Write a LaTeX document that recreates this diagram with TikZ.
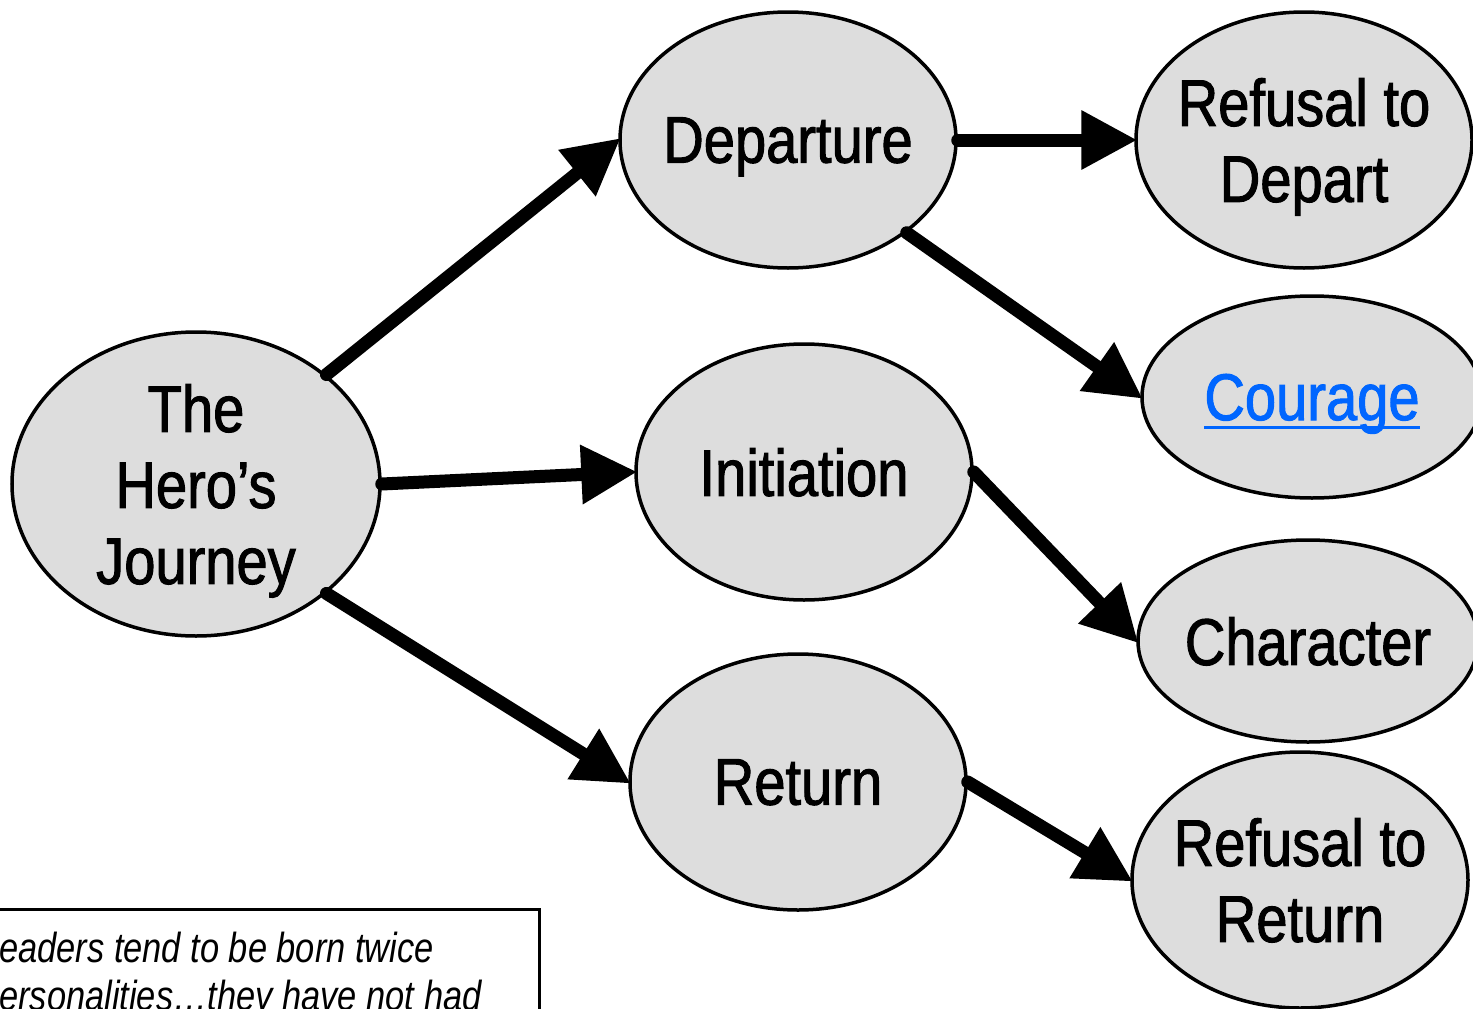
\documentclass[tikz,border=0pt]{standalone}
\usepackage{fontspec}
\setmainfont{Liberation Sans}[FakeStretch=0.82]
\newfontfamily\labelfont{Liberation Sans}[FakeStretch=0.85, FakeBold=1.5]
\usetikzlibrary{shapes.geometric,arrows.meta}
\definecolor{nodegray}{HTML}{DDDDDD}
\definecolor{linkblue}{HTML}{0066FF}
\newcommand\linkul[1]{\setbox0\hbox{#1}\rlap{\copy0}\rule[-9pt]{\wd0}{3.5pt}}
\begin{document}
\begin{tikzpicture}[x=1pt,y=-1pt,
  stage/.style={ellipse, draw, line width=3.5pt, fill=nodegray,
    inner xsep=-25pt, inner ysep=0pt,
    font=\labelfont\fontsize{66}{76}\selectfont, align=center, text depth=0pt,
    minimum width=336pt, minimum height=256pt},
  flat/.style={stage, minimum width=340pt, minimum height=202pt},
  arr/.style={line width=13pt, line cap=round, shorten >=-3pt,
    -{Triangle[length=56pt,width=56pt]}},
  quotetext/.style={anchor=base west, inner sep=0pt, font=\fontsize{42}{48}\selectfont\itshape}
]
\clip (0,0) rectangle (1473,1009);
\fill[white] (0,0) rectangle (1473,1009);

\node[stage, minimum width=368pt, minimum height=304pt] (hero) at (196,484) {The\\Hero’s\\Journey};
\node[stage] (dep) at (788,140) {Departure};
\node[stage] (init) at (804,472) {Initiation};
\node[stage] (ret) at (798,782) {Return};
\node[stage] (rtd) at (1304,140) {Refusal to\\Depart};
\node[flat] (cour) at (1312,397) {\color{linkblue}\linkul{Courage}};
\node[flat] (char) at (1308,641) {Character};
\node[stage] (rtr) at (1300,880) {Refusal to\\Return};

\draw[arr] (hero.40) -- (dep.west);
\draw[arr] (hero.east) -- (init.west);
\draw[arr] (hero.-40) -- (ret.west);
\draw[arr] (dep.east) -- (rtd.west);
\draw[arr] (dep.-38) -- (cour.west);
\draw[arr] (init.east) -- (char.west);
\draw[arr] (ret.east) -- (rtr.west);

\node[draw, line width=3pt, inner sep=0pt, minimum width=560pt, minimum height=140pt, anchor=north east] (quote) at (541,908) {};
\node[quotetext] (q1) at (-1,962) {eaders tend to be born twice};
\node[quotetext] (q2) at (-1,1010) {ersonalities…they have not had};
\end{tikzpicture}
\end{document}
